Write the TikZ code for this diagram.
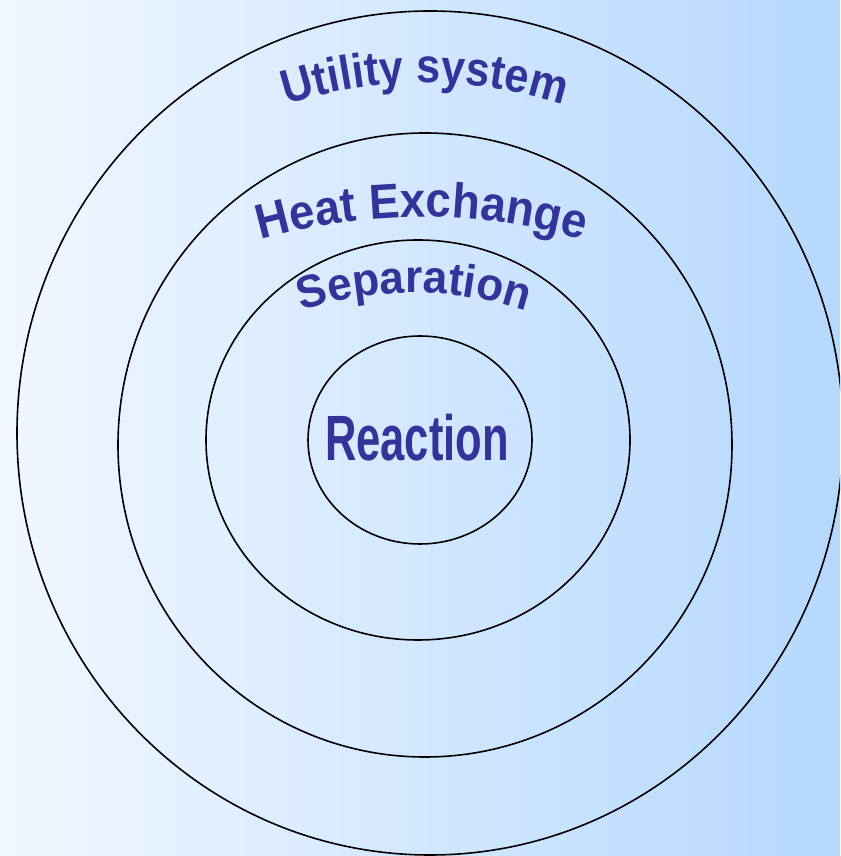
\documentclass[tikz,border=0pt]{standalone}
\usepackage{fontspec}
\setmainfont{Liberation Sans}
\newfontfamily\utilityfont[FakeStretch=0.90]{Liberation Sans}
\newfontfamily\heatexfont[FakeStretch=0.93]{Liberation Sans}
\newfontfamily\separationfont[FakeStretch=0.96]{Liberation Sans}
\usetikzlibrary{shapes.geometric,decorations.text,calc}
\definecolor{labelblue}{RGB}{51,51,153}
\definecolor{bgleft}{RGB}{241,247,255}
\definecolor{bgright}{RGB}{181,216,253}

\begin{document}
\begin{tikzpicture}[
    x=1pt, y=1pt,
    ring/.style={draw, ellipse, line width=1.6pt, inner sep=0pt},
    corelabel/.style={text=labelblue, font=\bfseries\fontsize{64}{64}\selectfont, xscale=0.68, inner sep=0pt},
    arclabel/.style={decorate, decoration={text along path, text align=center, text color=labelblue, text={#1}}}
]

% Background
\useasboundingbox (0,0) rectangle (840,856);
\clip (0,0) rectangle (840,856);
\shade[left color=bgleft, right color=bgright] (0,0) rectangle (840,856);

% Rings
\node[ring, minimum width=826pt, minimum height=844pt] (utility) at (430,423) {};
\node[ring, minimum width=614pt, minimum height=624pt] (heatex) at (425,411) {};
\node[ring, minimum width=424pt, minimum height=400pt] (separation) at (418,416) {};
\node[ring, minimum width=224pt, minimum height=208pt] (reaction) at (420,416) {};

% Labels
\node[corelabel] (reactionlabel) at (417,418) {Reaction};

\coordinate (utilitycentre) at (425,321);
\coordinate (heatexcentre) at (422,51);
\coordinate (separationcentre) at (414,205);

\path[arclabel={|\utilityfont\bfseries\fontsize{48}{48}\selectfont|Utility system}]
    ($(utilitycentre)+(125:452pt)$) arc[start angle=125, end angle=55, radius=452pt];
\path[arclabel={|\heatexfont\bfseries\fontsize{49}{49}\selectfont|Heat Exchange}]
    ($(heatexcentre)+(120:588pt)$) arc[start angle=120, end angle=60, radius=588pt];
\path[arclabel={|\separationfont\bfseries\fontsize{46}{46}\selectfont|Separation}]
    ($(separationcentre)+(125:358pt)$) arc[start angle=125, end angle=55, radius=358pt];

\end{tikzpicture}
\end{document}
